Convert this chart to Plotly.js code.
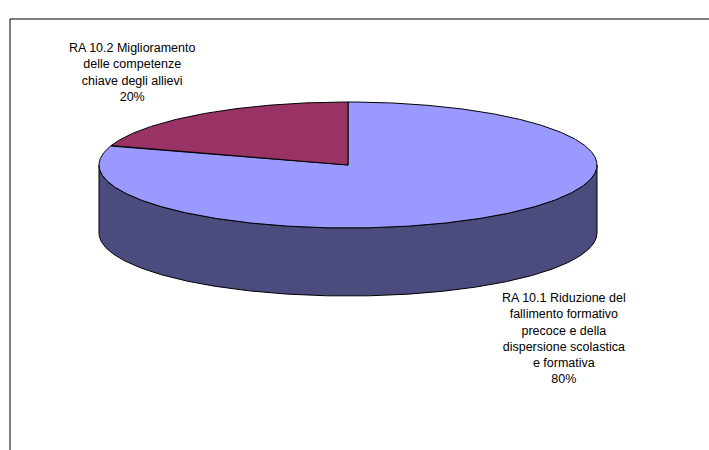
<!DOCTYPE html>
<html>
<head>
<meta charset="utf-8">
<script src="https://cdn.plot.ly/plotly-3.0.1.min.js"></script>
<style>html,body{margin:0;padding:0;background:#fff;}#chart{width:709px;height:450px;}</style>
</head>
<body>
<div id="chart"></div>
<script>
// ---- data ----
const categories = [
  "RA 10.1 Riduzione del fallimento formativo precoce e della dispersione scolastica e formativa",
  "RA 10.2 Miglioramento delle competenze chiave degli allievi"
];
const labelLines = [
  ["RA 10.1 Riduzione del", "fallimento formativo", "precoce e della", "dispersione scolastica", "e formativa"],
  ["RA 10.2 Miglioramento", "delle competenze", "chiave degli allievi"]
];
const values = [80, 20];

// ---- styling / geometry (not data) ----
const topColors = ["#9999FF", "#993366"];
const sideColors = ["#4B4B7E", "#5C1F3E"];
const CX = 348, CY = 165, RA = 249, RB = 63, DEPTH = 68;
const labelPos = [[564, 338], [132, 72]];

const total = values.reduce((a, b) => a + b, 0);
const deg = Math.PI / 180;
function pt(th, dy) { return [CX + RA * Math.cos(th), CY - RB * Math.sin(th) + (dy || 0)]; }
function arc(t1, t2, dy) {
  const n = Math.max(2, Math.ceil(Math.abs(t2 - t1) / deg * 2));
  const out = [];
  for (let i = 0; i <= n; i++) out.push(pt(t1 + (t2 - t1) * i / n, dy));
  return out;
}

// slice angle spans: start at 12 o'clock, go clockwise
const spans = [];
let start = 90 * deg;
values.forEach(v => {
  const sweep = v / total * 2 * Math.PI;
  spans.push([start - sweep, start]); // math-angle interval [lo, hi]
  start -= sweep;
});

const traces = [];
// sides (visible front half: angles in [180,360] mod 360)
spans.forEach((s, i) => {
  // check intervals shifted by multiples of 2pi
  for (let k = -2; k <= 2; k++) {
    const lo = Math.max(s[0], Math.PI + k * 2 * Math.PI);
    const hi = Math.min(s[1], 2 * Math.PI + k * 2 * Math.PI);
    if (hi > lo) {
      const top = arc(lo, hi, 0);
      const bot = arc(hi, lo, DEPTH);
      const poly = top.concat(bot);
      poly.push(top[0]);
      traces.push({
        type: "scatter", mode: "lines", fill: "toself",
        x: poly.map(p => p[0]), y: poly.map(p => p[1]),
        fillcolor: sideColors[i], line: {color: "#000", width: 1},
        hoverinfo: "skip", showlegend: false
      });
    }
  }
});
// tops
spans.forEach((s, i) => {
  const poly = [[CX, CY]].concat(arc(s[0], s[1], 0));
  poly.push([CX, CY]);
  traces.push({
    type: "scatter", mode: "lines", fill: "toself",
    x: poly.map(p => p[0]), y: poly.map(p => p[1]),
    fillcolor: topColors[i], line: {color: "#000", width: 1},
    hoverinfo: "skip", showlegend: false, name: categories[i]
  });
});

const annotations = labelLines.map((lines, i) => ({
  x: labelPos[i][0], y: labelPos[i][1], xref: "x", yref: "y",
  text: lines.concat([Math.round(values[i] / total * 100) + "%"]).join("<br>"),
  showarrow: false, align: "center", xanchor: "center", yanchor: "middle",
  font: {family: "Liberation Sans, Arial, sans-serif", size: 12.5, color: "#000"}
}));

const layout = {
  width: 709, height: 450,
  margin: {l: 0, r: 0, t: 0, b: 0},
  paper_bgcolor: "#fff", plot_bgcolor: "#fff",
  xaxis: {range: [0, 709], visible: false, fixedrange: true},
  yaxis: {range: [450, 0], visible: false, fixedrange: true},
  showlegend: false,
  annotations: annotations,
  shapes: [{type: "rect", xref: "x", yref: "y", x0: 10, y0: 19, x1: 730, y1: 470,
            line: {color: "#000", width: 1}, fillcolor: "rgba(0,0,0,0)", layer: "below"}]
};
Plotly.newPlot("chart", traces, layout, {staticPlot: true, displayModeBar: false});
</script>
</body>
</html>
